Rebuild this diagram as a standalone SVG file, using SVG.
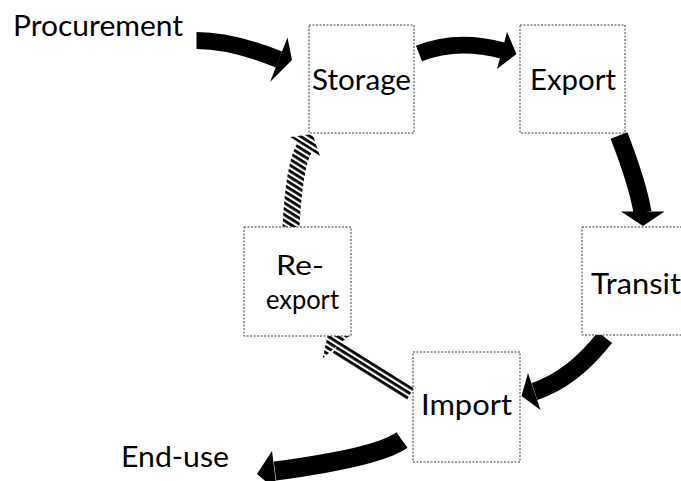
<svg xmlns="http://www.w3.org/2000/svg" width="681" height="481" viewBox="0 0 681 481">
  <style>
    .box { fill: #ffffff; stroke: #3a3a3a; stroke-width: 1; stroke-dasharray: 2 1.5; }
    .lbl { font-family: Lato, "Open Sans", "Liberation Sans", sans-serif; font-size: 28.5px; fill: #000000; }
    .lbl-sm { font-family: Lato, "Open Sans", "Liberation Sans", sans-serif; font-size: 26px; fill: #000000; }
    .flow { fill: none; stroke: #000000; stroke-width: 17; stroke-linecap: butt; }
    .head { fill: #000000; stroke: none; }
    .flow-hatch { fill: none; stroke: url(#hatch); stroke-width: 17; stroke-linecap: butt; }
    .head-hatch { fill: url(#hatch); stroke: none; }
  </style>
  <defs>
    <!-- diagonal black/white hatching used by the return flows -->
    <pattern id="hatch" patternUnits="userSpaceOnUse" width="5" height="5" patternTransform="rotate(32)">
      <rect x="0" y="0" width="5" height="5" fill="#ffffff"/>
      <rect x="0" y="0" width="5" height="2.8" fill="#000000"/>
    </pattern>
  </defs>

  <rect width="681" height="481" fill="#ffffff"/>

  <!-- flow arrows -->
  <g id="connectors">
    <!-- Procurement -> Storage -->
    <path class="flow" d="M196.5,40.5 Q232,40.5 279,59.5"/>
    <polygon class="head" points="287.5,37.5 292,60 270,82"/>
    <!-- Storage -> Export -->
    <path class="flow" style="stroke-width:16.5" d="M419,53.5 Q457,38.4 502.5,50.5"/>
    <polygon class="head" points="507,32 516.5,54 497,69"/>
    <!-- Export -> Transit -->
    <path class="flow" style="stroke-width:18" d="M619,135.5 Q637.8,184 642.5,212.5"/>
    <polygon class="head" points="621,211.5 664.5,211.5 643,226"/>
    <!-- Transit -> Import -->
    <path class="flow" style="stroke-width:18" d="M605,337.5 Q572.3,379.1 534.5,391.5"/>
    <polygon class="head" points="528,373 521.5,396 540.5,410"/>
    <!-- Import -> End-use -->
    <path class="flow" style="stroke-width:19" d="M402,440 Q377.5,457.5 275,471"/>
    <polygon class="head" points="272,451 257,474 277,491"/>
    <!-- Re-export -> Storage (hatched) -->
    <path class="flow-hatch" d="M291,227 Q294.2,163.6 305,147"/>
    <polygon class="head-hatch" points="290,137 312.5,134 320,156"/>
    <!-- Import -> Re-export (hatched) -->
    <path class="flow-hatch" style="stroke-width:15.5" d="M410.8,393.3 Q375,373 336.5,347"/>
    <polygon class="head-hatch" points="350,335 327.5,336 322.7,358.3"/>
  </g>

  <g id="node-procurement">
    <text class="lbl" x="13" y="36" textLength="170" lengthAdjust="spacingAndGlyphs">Procurement</text>
  </g>

  <g id="node-storage">
    <rect class="box" x="309" y="25" width="105" height="108"/>
    <text class="lbl" x="312" y="90" textLength="99" lengthAdjust="spacingAndGlyphs">Storage</text>
  </g>

  <g id="node-export">
    <rect class="box" x="520" y="25" width="105" height="108"/>
    <text class="lbl" x="530" y="90" textLength="86" lengthAdjust="spacingAndGlyphs">Export</text>
  </g>

  <g id="node-transit">
    <rect class="box" x="582" y="227" width="106" height="108"/>
    <text class="lbl" x="591" y="294" textLength="90" lengthAdjust="spacingAndGlyphs">Transit</text>
  </g>

  <g id="node-reexport">
    <rect class="box" x="244" y="227" width="107" height="109"/>
    <text class="lbl-sm" x="276" y="275" textLength="48" lengthAdjust="spacingAndGlyphs">Re-</text>
    <text class="lbl-sm" x="266" y="309" textLength="73" lengthAdjust="spacingAndGlyphs">export</text>
  </g>

  <g id="node-import">
    <rect class="box" x="413" y="352" width="107" height="110"/>
    <text class="lbl" x="421" y="415" textLength="91" lengthAdjust="spacingAndGlyphs">Import</text>
  </g>

  <g id="node-enduse">
    <text class="lbl" x="121" y="467" textLength="108" lengthAdjust="spacingAndGlyphs">End-use</text>
  </g>
</svg>
